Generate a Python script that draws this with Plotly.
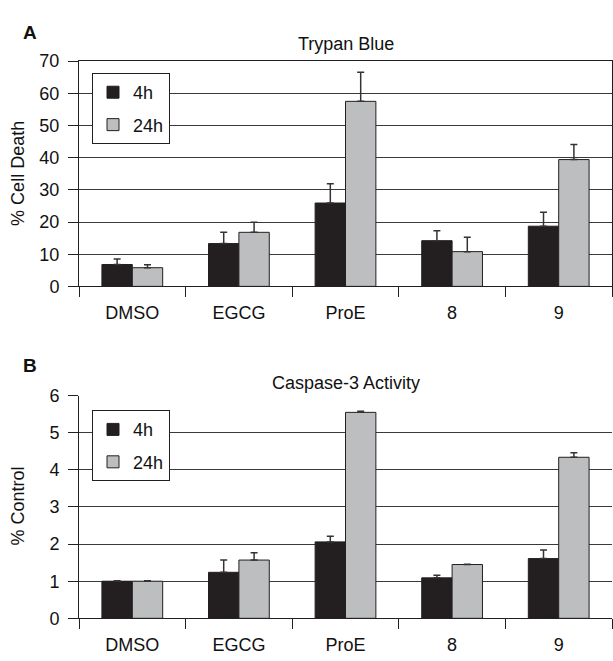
import plotly.graph_objects as go

categories = ["DMSO", "EGCG", "ProE", "8", "9"]
series_names = ["4h", "24h"]

# Panel A: Trypan Blue (% cell death)
trypan_4h = [6.8, 13.3, 25.9, 14.2, 18.7]
trypan_4h_err = [1.7, 3.5, 6.0, 3.1, 4.3]
trypan_24h = [5.8, 16.8, 57.5, 10.8, 39.4]
trypan_24h_err = [0.9, 3.1, 9.0, 4.5, 4.7]

# Panel B: Caspase-3 activity (% control)
casp_4h = [1.0, 1.24, 2.06, 1.09, 1.61]
casp_4h_err = [0.01, 0.33, 0.15, 0.07, 0.23]
casp_24h = [1.0, 1.57, 5.55, 1.45, 4.34]
casp_24h_err = [0.01, 0.20, 0.03, 0.01, 0.12]

W, H = 613, 661
FONT = "Arial, Liberation Sans, Helvetica, sans-serif"
C4 = "#231f20"
C24 = "#bcbec0"
LINE = "#231f20"
GRID = "#3a3a3a"
FS = 18
TXT = "#111111"


def px(xp):
    return xp / W


def py(yp):
    return 1 - yp / H


fig = go.Figure()


def add_bars(y4, e4, y24, e24, xa, ya, legend):
    for name, vals, errs, col in [(series_names[0], y4, e4, C4), (series_names[1], y24, e24, C24)]:
        fig.add_trace(go.Bar(
            x=categories, y=vals, name=name, xaxis=xa, yaxis=ya,
            marker=dict(color=col, line=dict(color=LINE, width=1)),
            error_y=dict(type="data", array=errs, arrayminus=[0] * len(errs),
                         symmetric=False, color="#333333", thickness=1.5, width=3.5),
            legend=legend, legendgroup=legend + name,
        ))


add_bars(trypan_4h, trypan_4h_err, trypan_24h, trypan_24h_err, "x", "y", "legend")
add_bars(casp_4h, casp_4h_err, casp_24h, casp_24h_err, "x2", "y2", "legend2")

xdom = [px(79), px(612)]
domA = [py(285), py(52.7)]
domB = [py(627.3), py(397.7)]

xcommon = dict(type="category", tickson="boundaries", ticks="outside", ticklen=10,
               tickcolor=LINE, tickwidth=1, showline=True, linecolor=LINE, linewidth=1,
               showgrid=False, tickfont=dict(family=FONT, size=FS, color=TXT),
               ticklabelstandoff=10, domain=xdom)
ycommon = dict(ticks="outside", ticklen=10, tickcolor=LINE, tickwidth=1,
               showline=True, linecolor=LINE, linewidth=1, showgrid=True,
               gridcolor=GRID, gridwidth=1, zeroline=False, ticklabelstandoff=5,
               tickfont=dict(family=FONT, size=FS, color=TXT))

legcommon = dict(bgcolor="white", bordercolor=LINE, borderwidth=1,
                 font=dict(family=FONT, size=FS, color=TXT),
                 xanchor="left", yanchor="top", tracegroupgap=6,
                 itemwidth=30)

fig.update_layout(
    width=W, height=H,
    margin=dict(l=0, r=0, t=0, b=0),
    paper_bgcolor="white", plot_bgcolor="white",
    barmode="group", bargap=0.43, bargroupgap=0,
    xaxis=dict(xcommon, anchor="y", mirror=True),
    yaxis=dict(ycommon, anchor="x", domain=domA, range=[0, 70], dtick=10, mirror=True),
    xaxis2=dict(xcommon, anchor="y2"),
    yaxis2=dict(ycommon, anchor="x2", domain=domB, range=[0, 6], dtick=1),
    legend=dict(legcommon, x=px(92), y=py(65)),
    legend2=dict(legcommon, x=px(92), y=py(412.7)),
    showlegend=True,
)

annos = [
    dict(text="<b>A</b>", x=px(30), y=py(23), font=dict(size=19)),
    dict(text="<b>B</b>", x=px(30), y=py(367), font=dict(size=19)),
    dict(text="Trypan Blue", x=px(345.5), y=py(35), font=dict(size=FS)),
    dict(text="Caspase-3 Activity", x=px(345.5), y=py(385), font=dict(size=FS)),
    dict(text="% Cell Death", x=px(18), y=py(169), textangle=-90, font=dict(size=FS)),
    dict(text="% Control", x=px(18), y=py(512), textangle=-90, font=dict(size=FS)),
]
for a in annos:
    a["font"]["family"] = FONT
    a["font"]["color"] = TXT
    fig.add_annotation(xref="paper", yref="paper", showarrow=False,
                       xanchor="center", yanchor="middle", **a)

post = """
var gd = document.getElementById('{plot_id}');
var de = document.documentElement, b = document.body;
de.style.margin = '0'; de.style.padding = '0'; de.style.overflow = 'hidden';
b.style.margin = '0'; b.style.padding = '0'; b.style.overflow = 'hidden';
gd.style.display = 'block';
"""

fig.write_html("out.html", post_script=post, config={"displayModeBar": False})
